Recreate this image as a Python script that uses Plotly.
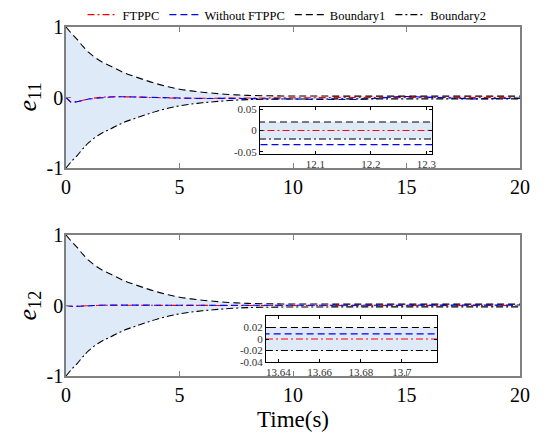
import plotly.graph_objects as go

W, H = 552, 437

# ---------------- data ----------------
t_b = [0, 0.25, 0.5, 0.75, 1, 1.5, 2, 2.5, 3, 3.5, 4, 4.5, 5, 5.5, 6, 6.5, 7, 7.5,
       8, 9, 10, 11, 12, 13, 14, 16, 18, 20]
boundary1 = [1.0, 0.905, 0.82, 0.725, 0.64, 0.52, 0.44, 0.36, 0.30, 0.245, 0.195, 0.152,
             0.118, 0.094, 0.075, 0.060, 0.047, 0.037, 0.030, 0.024, 0.021, 0.0205,
             0.020, 0.020, 0.020, 0.020, 0.020, 0.020]
boundary2 = [-1.0, -0.905, -0.82, -0.725, -0.64, -0.52, -0.44, -0.36, -0.30, -0.245, -0.195,
             -0.152, -0.118, -0.094, -0.075, -0.060, -0.047, -0.037, -0.030, -0.024, -0.021,
             -0.0205, -0.020, -0.020, -0.020, -0.020, -0.020, -0.020]

t_e = [0, 0.1, 0.2, 0.3, 0.45, 0.7, 1.0, 1.5, 2.0, 2.5, 3.0, 3.5, 4.0, 5.0, 6.0, 7.0,
       8.0, 9.0, 10.0, 11.0, 12.0, 12.4, 13.0, 13.6, 13.75, 14.5, 15.0, 16.0, 17.0,
       18.0, 19.0, 20.0]
e11_ftppc = [0, -0.035, -0.06, -0.068, -0.062, -0.042, -0.018, 0.002, 0.011, 0.012, 0.008,
             0.002, -0.004, -0.010, -0.011, -0.008, -0.005, -0.003, -0.002, -0.001, 0.0,
             0.0, 0.0, 0.001, 0.001, 0.002, 0.002, 0.0, -0.002, -0.001, 0.0, 0.0]
e11_without = [0, -0.04, -0.065, -0.072, -0.066, -0.046, -0.022, -0.002, 0.008, 0.011,
               0.007, 0.0, -0.007, -0.014, -0.015, -0.012, -0.012, -0.016, -0.021, -0.028,
               -0.033, -0.033, -0.028, -0.015, -0.01, 0.01, 0.015, 0.0, -0.015, -0.02,
               -0.015, -0.012]
e12_ftppc = [0, -0.005, -0.009, -0.011, -0.01, -0.006, -0.002, 0.003, 0.004, 0.003, 0.001,
             0, 0, 0, 0, 0, 0, 0, 0, 0, 0, 0, 0, 0, 0, 0, 0, 0, 0, 0, 0, 0]
e12_without = [0, -0.008, -0.013, -0.015, -0.013, -0.008, -0.003, 0.004, 0.006, 0.005,
               0.003, 0.002, 0.001, 0.0, 0.001, 0.002, 0.004, 0.005, 0.006, 0.007,
               0.008, 0.008, 0.009, 0.009, 0.009, 0.008, 0.008, 0.007, 0.006, 0.006,
               0.005, 0.005]

legend_names = ["FTPPC", "Without FTPPC", "Boundary1", "Boundary2"]
main_xticks = [0, 5, 10, 15, 20]
main_yticks = [-1, 0, 1]
main_yticktext = ["-1", "0", "1"]
inset1_xticks = [12.1, 12.2, 12.3]
inset1_yticks = [-0.05, 0, 0.05]
inset1_yticktext = ["-0.05", "0", "0.05"]
inset2_xticks = [13.64, 13.66, 13.68, 13.7]
inset2_xticktext = ["13.64", "13.66", "13.68", "13.7"]
inset2_yticks = [-0.04, -0.02, 0, 0.02]
inset2_yticktext = ["-0.04", "-0.02", "0", "0.02"]

# ---------------- styling ----------------
FONT = "Liberation Serif"
RED, BLUE, BLACK = "#ff0000", "#0000ff", "#000000"
FILL = "rgba(222,234,247,1)"
DASH = "7px,4px"
DASHDOT = "7px,3px,2px,3px"

def px_x(p):
    return p / W

def px_y(p):
    return 1 - p / H

fig = go.Figure()

def add_panel(xa, ya, e_f, e_w, show_legend):
    # shaded region between boundaries
    fig.add_trace(go.Scatter(x=t_b + t_b[::-1], y=boundary1 + boundary2[::-1],
                             fill="toself", fillcolor=FILL, line=dict(width=0),
                             mode="lines", hoverinfo="skip", showlegend=False,
                             xaxis=xa, yaxis=ya))
    fig.add_trace(go.Scatter(x=t_e, y=e_f, mode="lines", name=legend_names[0],
                             line=dict(color=RED, width=1.1, dash=DASHDOT),
                             showlegend=show_legend, xaxis=xa, yaxis=ya))
    fig.add_trace(go.Scatter(x=t_e, y=e_w, mode="lines", name=legend_names[1],
                             line=dict(color=BLUE, width=1.1, dash=DASH),
                             showlegend=show_legend, xaxis=xa, yaxis=ya))
    fig.add_trace(go.Scatter(x=t_b, y=boundary1, mode="lines", name=legend_names[2],
                             line=dict(color=BLACK, width=1.1, dash=DASH, shape="spline"),
                             showlegend=show_legend, xaxis=xa, yaxis=ya))
    fig.add_trace(go.Scatter(x=t_b, y=boundary2, mode="lines", name=legend_names[3],
                             line=dict(color=BLACK, width=1.1, dash=DASHDOT, shape="spline"),
                             showlegend=show_legend, xaxis=xa, yaxis=ya))

add_panel("x", "y", e11_ftppc, e11_without, True)
add_panel("x2", "y2", e12_ftppc, e12_without, False)
add_panel("x3", "y3", e11_ftppc, e11_without, False)
add_panel("x4", "y4", e12_ftppc, e12_without, False)

main_ax = dict(showline=True, linecolor="#808080", linewidth=1.5, mirror="ticks",
               ticks="inside", ticklen=5, tickcolor="#808080", tickwidth=1,
               showgrid=False, zeroline=False, automargin=False,
               tickfont=dict(family=FONT, size=20, color="black"))
inset_ax = dict(showline=True, linecolor="black", linewidth=1, mirror="ticks",
                ticks="inside", ticklen=3, tickcolor="black", tickwidth=1,
                showgrid=False, zeroline=False, automargin=False,
                tickfont=dict(family=FONT, size=11, color="#333333"))

x_dom = [px_x(66), px_x(520)]
fig.update_layout(
    width=W, height=H, margin=dict(l=0, r=0, t=0, b=0, pad=0, autoexpand=False),
    paper_bgcolor="white", plot_bgcolor="white",
    font=dict(family=FONT, color="black"),
    xaxis=dict(main_ax, domain=x_dom, range=[0, 20], tickvals=main_xticks, anchor="y"),
    yaxis=dict(main_ax, domain=[px_y(168), px_y(27)], range=[-1, 1],
               tickvals=main_yticks, ticktext=main_yticktext, anchor="x",
               ticklabelstandoff=-3),
    xaxis2=dict(main_ax, domain=x_dom, range=[0, 20], tickvals=main_xticks, anchor="y2"),
    yaxis2=dict(main_ax, domain=[px_y(376), px_y(235)], range=[-1, 1],
                tickvals=main_yticks, ticktext=main_yticktext, anchor="x2",
                ticklabelstandoff=-3),
    xaxis3=dict(inset_ax, domain=[px_x(260), px_x(432)], range=[12.0, 12.31],
                tickvals=inset1_xticks, anchor="y3"),
    yaxis3=dict(inset_ax, domain=[px_y(154), px_y(107)], range=[-0.055, 0.055],
                tickvals=inset1_yticks, ticktext=inset1_yticktext, anchor="x3"),
    xaxis4=dict(inset_ax, domain=[px_x(266), px_x(437)], range=[13.634, 13.717],
                tickvals=inset2_xticks, ticktext=inset2_xticktext, anchor="y4"),
    yaxis4=dict(inset_ax, domain=[px_y(362), px_y(316)], range=[-0.04, 0.04],
                tickvals=inset2_yticks, ticktext=inset2_yticktext, anchor="x4"),
    legend=dict(orientation="h", x=0.52, xanchor="center", y=px_y(15), yanchor="middle",
                font=dict(family=FONT, size=12.5, color="black"),
                bgcolor="rgba(0,0,0,0)", itemwidth=30, tracegroupgap=0),
    showlegend=True,
)

for label, yc in [("<i>e</i><sub>11</sub>", 97.5), ("<i>e</i><sub>12</sub>", 305.5)]:
    fig.add_annotation(text=label, x=px_x(28), y=px_y(yc), xref="paper", yref="paper",
                       xanchor="center", yanchor="middle", showarrow=False, textangle=-90,
                       font=dict(family=FONT, size=26, color="black"))
fig.add_annotation(text="Time(s)", x=px_x(293), y=px_y(419), xref="paper", yref="paper",
                   xanchor="center", yanchor="middle", showarrow=False,
                   font=dict(family=FONT, size=23, color="black"))

fig.write_html("out.html")
